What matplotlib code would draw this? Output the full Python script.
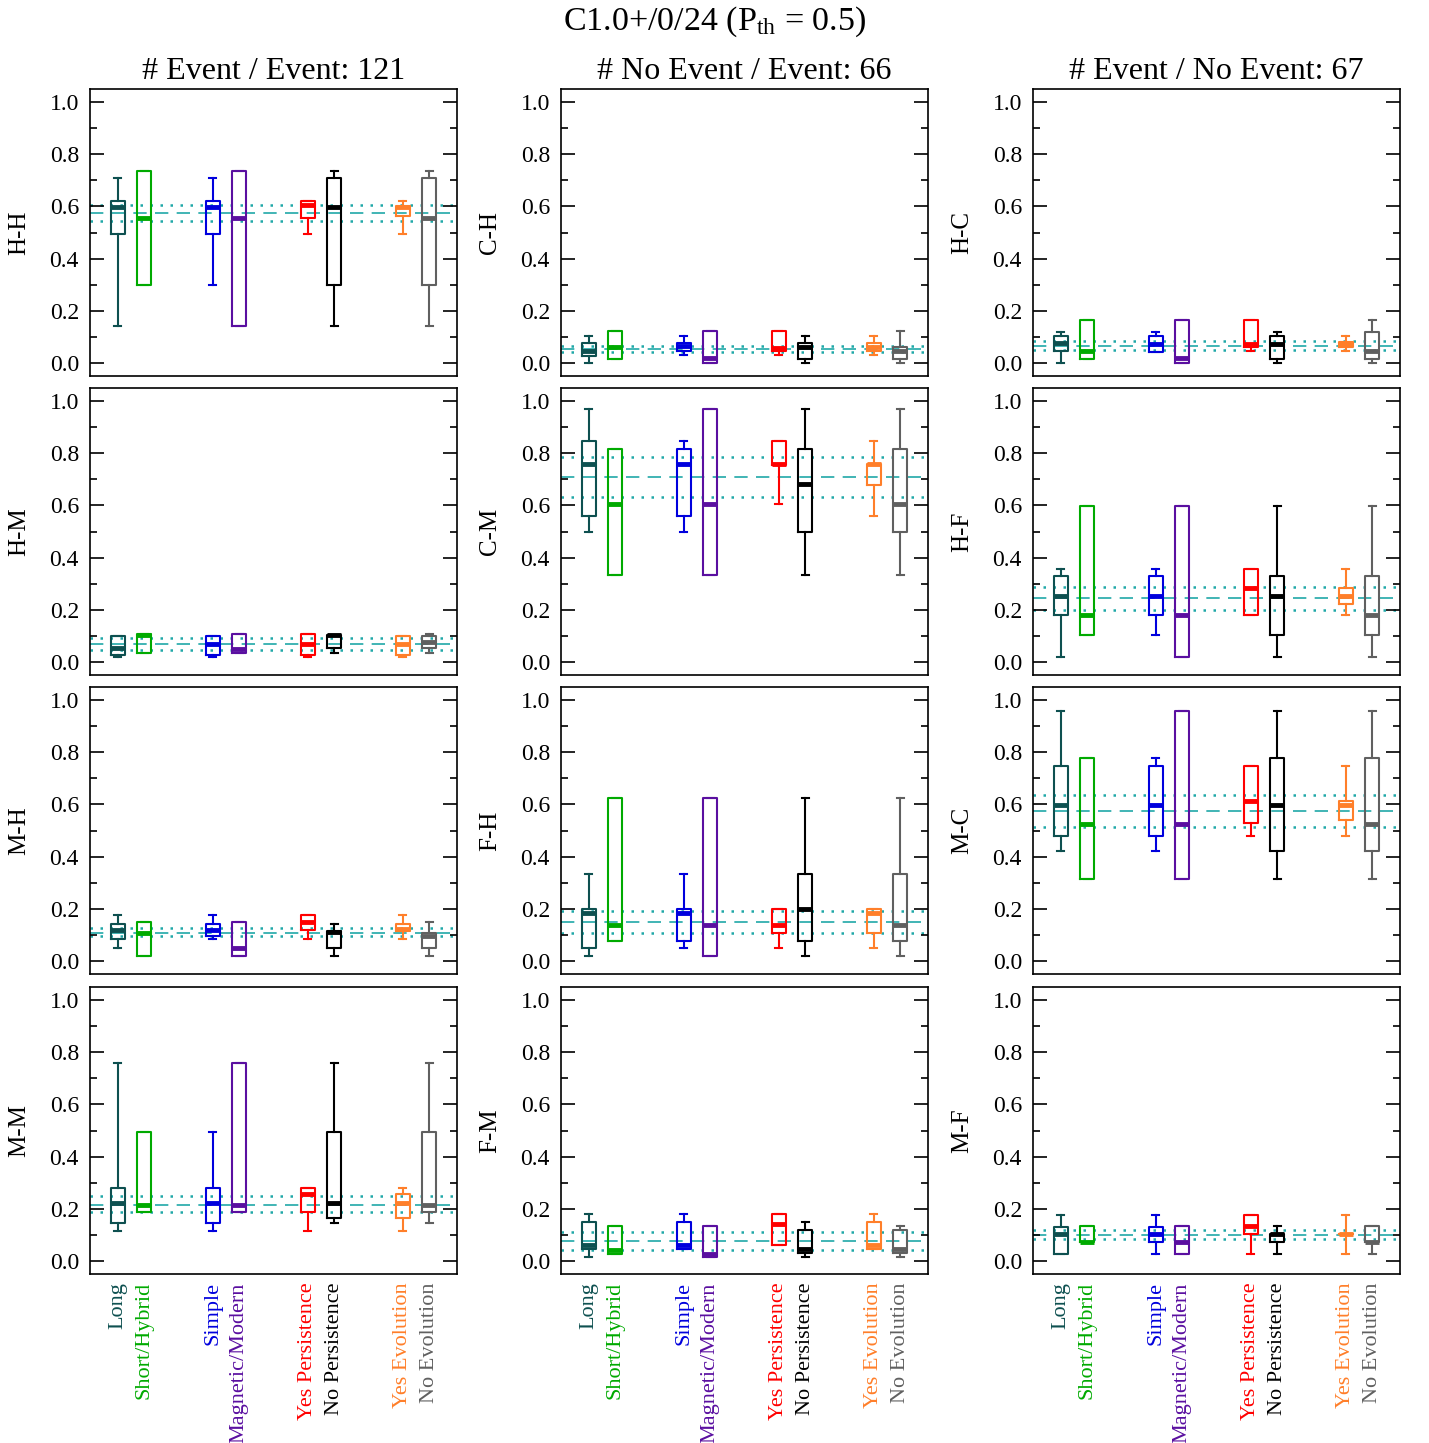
import matplotlib
matplotlib.use("Agg")
import matplotlib.pyplot as plt
from matplotlib.ticker import MultipleLocator, FormatStrFormatter

plt.rcParams['font.family'] = ['Liberation Serif', 'DejaVu Serif']
plt.rcParams['mathtext.fontset'] = 'custom'
plt.rcParams['mathtext.rm'] = 'Liberation Serif'
plt.rcParams['mathtext.it'] = 'Liberation Serif:italic'

categories = ["Long", "Short/Hybrid", "Simple", "Magnetic/Modern",
              "Yes Persistence", "No Persistence", "Yes Evolution", "No Evolution"]
cat_colors = ["#0e5050", "#00aa00", "#0000dd", "#5a0fa0",
              "#ff0000", "#000000", "#ff7f2a", "#606060"]

col_titles = ["# Event / Event: 121", "# No Event / Event: 66", "# Event / No Event: 67"]
row_labels = [["H-H", "C-H", "H-C"],
              ["H-M", "C-M", "H-F"],
              ["M-H", "F-H", "M-C"],
              ["M-M", "F-M", "M-F"]]

# each box: (whisker low, Q1, median, Q3, whisker high)
HH = [(0.140, 0.496, 0.596, 0.619, 0.710), (0.297, 0.297, 0.554, 0.737, 0.737),
      (0.297, 0.496, 0.596, 0.619, 0.710), (0.140, 0.140, 0.554, 0.737, 0.737),
      (0.496, 0.554, 0.605, 0.619, 0.619), (0.140, 0.297, 0.596, 0.710, 0.737),
      (0.496, 0.562, 0.597, 0.602, 0.619), (0.140, 0.297, 0.554, 0.710, 0.737)]
HH_ref = [0.543, 0.574, 0.606]

CH = [(0.000, 0.028, 0.044, 0.075, 0.104), (0.015, 0.015, 0.062, 0.121, 0.121),
      (0.030, 0.044, 0.064, 0.075, 0.104), (0.000, 0.000, 0.018, 0.121, 0.121),
      (0.030, 0.044, 0.058, 0.121, 0.121), (0.000, 0.015, 0.061, 0.075, 0.104),
      (0.030, 0.044, 0.062, 0.075, 0.104), (0.000, 0.015, 0.044, 0.060, 0.121)]
CH_ref = [0.041, 0.052, 0.065]

HC = [(0.000, 0.044, 0.075, 0.103, 0.119), (0.015, 0.015, 0.044, 0.165, 0.165),
      (0.043, 0.043, 0.074, 0.103, 0.119), (0.000, 0.000, 0.018, 0.165, 0.165),
      (0.044, 0.060, 0.074, 0.165, 0.165), (0.000, 0.015, 0.074, 0.103, 0.119),
      (0.044, 0.060, 0.071, 0.079, 0.104), (0.000, 0.015, 0.044, 0.119, 0.165)]
HC_ref = [0.048, 0.066, 0.084]

HM = [(0.018, 0.028, 0.053, 0.101, 0.101), (0.033, 0.033, 0.104, 0.108, 0.108),
      (0.018, 0.028, 0.068, 0.101, 0.101), (0.033, 0.033, 0.051, 0.109, 0.109),
      (0.018, 0.028, 0.068, 0.109, 0.109), (0.033, 0.053, 0.103, 0.105, 0.105),
      (0.018, 0.028, 0.068, 0.101, 0.101), (0.033, 0.053, 0.075, 0.101, 0.109)]
HM_ref = [0.044, 0.067, 0.091]

CM = [(0.500, 0.561, 0.758, 0.847, 0.968), (0.335, 0.335, 0.606, 0.816, 0.816),
      (0.500, 0.561, 0.758, 0.816, 0.847), (0.335, 0.335, 0.606, 0.968, 0.968),
      (0.606, 0.753, 0.758, 0.847, 0.847), (0.335, 0.500, 0.682, 0.816, 0.968),
      (0.561, 0.680, 0.758, 0.758, 0.847), (0.335, 0.500, 0.606, 0.816, 0.968)]
CM_ref = [0.634, 0.708, 0.784]

HF = [(0.018, 0.180, 0.254, 0.328, 0.358), (0.105, 0.105, 0.180, 0.597, 0.597),
      (0.105, 0.180, 0.254, 0.328, 0.358), (0.018, 0.018, 0.180, 0.597, 0.597),
      (0.180, 0.180, 0.285, 0.358, 0.358), (0.018, 0.105, 0.254, 0.328, 0.597),
      (0.180, 0.224, 0.254, 0.284, 0.358), (0.018, 0.105, 0.180, 0.328, 0.597)]
HF_ref = [0.200, 0.244, 0.289]

MH = [(0.051, 0.084, 0.118, 0.141, 0.175), (0.018, 0.018, 0.108, 0.151, 0.151),
      (0.086, 0.094, 0.118, 0.141, 0.175), (0.018, 0.018, 0.051, 0.151, 0.151),
      (0.084, 0.118, 0.150, 0.176, 0.176), (0.018, 0.051, 0.110, 0.115, 0.142),
      (0.084, 0.115, 0.121, 0.141, 0.175), (0.018, 0.051, 0.094, 0.108, 0.151)]
MH_ref = [0.095, 0.109, 0.128]

FH = [(0.018, 0.048, 0.183, 0.199, 0.335), (0.077, 0.077, 0.138, 0.623, 0.623),
      (0.048, 0.077, 0.183, 0.199, 0.335), (0.018, 0.018, 0.138, 0.623, 0.623),
      (0.048, 0.108, 0.138, 0.199, 0.199), (0.018, 0.077, 0.199, 0.335, 0.623),
      (0.048, 0.108, 0.183, 0.199, 0.199), (0.018, 0.077, 0.138, 0.335, 0.623)]
FH_ref = [0.108, 0.150, 0.193]

MC = [(0.420, 0.480, 0.599, 0.747, 0.957), (0.315, 0.315, 0.524, 0.778, 0.778),
      (0.420, 0.480, 0.599, 0.747, 0.778), (0.315, 0.315, 0.524, 0.957, 0.957),
      (0.480, 0.527, 0.614, 0.747, 0.747), (0.315, 0.423, 0.599, 0.778, 0.957),
      (0.480, 0.539, 0.599, 0.612, 0.747), (0.315, 0.423, 0.524, 0.778, 0.957)]
MC_ref = [0.514, 0.575, 0.637]

MM = [(0.116, 0.147, 0.222, 0.280, 0.759), (0.188, 0.188, 0.215, 0.496, 0.496),
      (0.116, 0.147, 0.222, 0.280, 0.496), (0.188, 0.188, 0.215, 0.759, 0.759),
      (0.116, 0.188, 0.257, 0.280, 0.280), (0.147, 0.165, 0.222, 0.496, 0.759),
      (0.116, 0.165, 0.222, 0.255, 0.280), (0.147, 0.188, 0.215, 0.496, 0.759)]
MM_ref = [0.186, 0.216, 0.248]

FM = [(0.015, 0.044, 0.060, 0.150, 0.180), (0.028, 0.028, 0.041, 0.135, 0.135),
      (0.044, 0.044, 0.060, 0.150, 0.180), (0.015, 0.015, 0.028, 0.135, 0.135),
      (0.060, 0.060, 0.140, 0.180, 0.180), (0.015, 0.030, 0.044, 0.119, 0.150),
      (0.044, 0.044, 0.062, 0.150, 0.180), (0.015, 0.030, 0.044, 0.119, 0.135)]
FM_ref = [0.042, 0.076, 0.111]

MF = [(0.028, 0.028, 0.103, 0.132, 0.178), (0.071, 0.071, 0.071, 0.133, 0.133),
      (0.028, 0.072, 0.103, 0.132, 0.178), (0.028, 0.028, 0.072, 0.133, 0.133),
      (0.028, 0.103, 0.133, 0.178, 0.178), (0.028, 0.072, 0.102, 0.104, 0.133),
      (0.028, 0.103, 0.103, 0.103, 0.178), (0.028, 0.072, 0.072, 0.133, 0.133)]
MF_ref = [0.083, 0.099, 0.118]

panels = [[(HH, HH_ref), (CH, CH_ref), (HC, HC_ref)],
          [(HM, HM_ref), (CM, CM_ref), (HF, HF_ref)],
          [(MH, MH_ref), (FH, FH_ref), (MC, MC_ref)],
          [(MM, MM_ref), (FM, FM_ref), (MF, MF_ref)]]

positions = [0.86, 1.14, 1.86, 2.14, 2.86, 3.14, 3.86, 4.14]
ref_color = "#20a8a8"

W, H = 1429, 1443
fig = plt.figure(figsize=(W / 100, H / 100), dpi=100)

col_left = [90, 561, 1033]
ax_w = 367
row_top = [89, 388, 687, 987]
ax_h = 287

for r in range(4):
    for c in range(3):
        data, ref = panels[r][c]
        ax = fig.add_axes([col_left[c] / W, 1 - (row_top[r] + ax_h) / H, ax_w / W, ax_h / H])
        stats = [dict(whislo=d[0], q1=d[1], med=d[2], q3=d[3], whishi=d[4]) for d in data]
        art = ax.bxp(stats, positions=positions, widths=0.147, showfliers=False,
                     manage_ticks=False)
        for i, col in enumerate(cat_colors):
            art['boxes'][i].set(color=col, linewidth=1.5)
            art['medians'][i].set(color=col, linewidth=3.5, solid_capstyle='butt')
            for k in (2 * i, 2 * i + 1):
                art['whiskers'][k].set(color=col, linewidth=1.5)
                art['caps'][k].set(color=col, linewidth=1.5)
        ax.axhline(ref[1], color=ref_color, linestyle=(0, (8, 5)), linewidth=1.2, zorder=0)
        ax.axhline(ref[0], color=ref_color, linestyle=(0, (1, 3)), linewidth=1.8, zorder=0)
        ax.axhline(ref[2], color=ref_color, linestyle=(0, (1, 3)), linewidth=1.8, zorder=0)

        ax.set_xlim(0.57, 4.43)
        ax.set_ylim(-0.05, 1.05)
        ax.yaxis.set_major_locator(MultipleLocator(0.2))
        ax.yaxis.set_minor_locator(MultipleLocator(0.1))
        ax.yaxis.set_major_formatter(FormatStrFormatter('%.1f'))
        ax.tick_params(axis='y', which='both', direction='in', left=True, right=True,
                       labelsize=17, width=1.2, pad=8)
        ax.tick_params(axis='y', which='major', length=10)
        ax.tick_params(axis='y', which='minor', length=5)
        for sp in ax.spines.values():
            sp.set_linewidth(1.2)
        ax.set_ylabel(row_labels[r][c], fontsize=18, labelpad=14)

        if r == 3:
            ax.set_xticks(positions)
            ax.set_xticklabels(categories, rotation=90, fontsize=16, va='top')
            for lab, col in zip(ax.get_xticklabels(), cat_colors):
                lab.set_color(col)
            ax.tick_params(axis='x', length=0, pad=6)
        else:
            ax.set_xticks([])
        if r == 0:
            ax.set_title(col_titles[c], fontsize=23, pad=7)

fig.text(0.5, 1 - 22 / H, r"C1.0+/0/24 (P$_{\mathrm{th}}$ = 0.5)", ha='center', va='center',
         fontsize=24.5)

fig.savefig("out.png", dpi=100)
